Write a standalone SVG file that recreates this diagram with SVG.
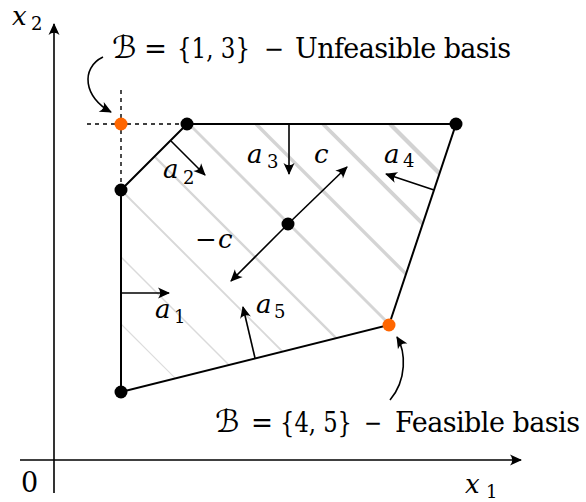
<svg xmlns="http://www.w3.org/2000/svg" width="586" height="502" viewBox="0 0 586 502">
<style>
.t{font-size:27px;font-family:'DejaVu Serif','Liberation Serif',serif}
.m{font-size:26px;font-style:italic;font-family:'DejaVu Serif','Liberation Serif',serif}
.s{font-size:18px;font-style:normal}
.cal{font-family:'DejaVu Serif','DejaVu Sans',serif;font-style:italic;font-size:31px}
.edge{stroke:#000;stroke-width:2;fill:none}
.vec{stroke:#000;stroke-width:1.6;fill:none;marker-end:url(#ah)}
.axis{stroke:#000;stroke-width:1.6;fill:none}
.dash{stroke:#000;stroke-width:1.4;stroke-dasharray:4 4;fill:none}
.h{fill:none;stroke-linecap:butt}
</style>
<defs>
<marker id="ah" markerUnits="userSpaceOnUse" markerWidth="16" markerHeight="14" viewBox="-13 -7 16 14" refX="0" refY="0" orient="auto">
<path d="M1,0 L-11,-5.5 Q-6.5,0 -11,5.5 Z" fill="#000"/>
</marker>
</defs>

<g id="hatching">
<line class="h" x1="390" y1="124" x2="439.5" y2="173.5" stroke="#d2d2d2" stroke-width="4.2"/>
<line class="h" x1="323" y1="124" x2="422.8" y2="223.8" stroke="#d3d3d3" stroke-width="3.8"/>
<line class="h" x1="256" y1="124" x2="406" y2="274" stroke="#d4d4d4" stroke-width="3.3"/>
<line class="h" x1="189" y1="124" x2="389.3" y2="324.3" stroke="#d5d5d5" stroke-width="2.9"/>
<line class="h" x1="154.5" y1="156.5" x2="336.2" y2="338.2" stroke="#d6d6d6" stroke-width="2.4"/>
<line class="h" x1="121" y1="190" x2="282.6" y2="351.6" stroke="#d8d8d8" stroke-width="1.9"/>
<line class="h" x1="121" y1="257" x2="229" y2="365" stroke="#dadada" stroke-width="1.5"/>
<line class="h" x1="121" y1="324" x2="175.4" y2="378.4" stroke="#dcdcdc" stroke-width="1.1"/>
</g>

<g id="axes">
<line class="axis" x1="54" y1="493" x2="54" y2="24" marker-end="url(#ah)"/>
<line class="axis" x1="20" y1="460" x2="521" y2="460" marker-end="url(#ah)"/>
<text class="m" x="12" y="25">x<tspan class="s" x="31" y="30">2</tspan></text>
<text class="m" x="465" y="493">x<tspan class="s" x="486" y="498">1</tspan></text>
<text class="t" x="21" y="492">0</text>
</g>

<g id="connectors">
<line class="dash" x1="87" y1="124" x2="187" y2="124"/>
<line class="dash" x1="121" y1="90" x2="121" y2="190"/>
<polyline class="edge" points="121,190 121,392 389,325 456,124 187,124 121,190"/>
<line class="vec" x1="288" y1="224" x2="347" y2="167"/>
<line class="vec" x1="288" y1="224" x2="231" y2="281"/>
<line class="vec" x1="289" y1="124" x2="289" y2="174"/>
<line class="vec" x1="171" y1="141" x2="205" y2="175"/>
<line class="vec" x1="121" y1="293" x2="169" y2="293"/>
<line class="vec" x1="434" y1="190" x2="386" y2="174"/>
<line class="vec" x1="255" y1="358" x2="243" y2="307"/>
<path class="vec" d="M103,57 C80,68 84,98 111,112"/>
<path class="vec" d="M390,400 C407,380 406,352 397,337"/>
</g>

<g id="labels">
<text class="m" x="163" y="178">a<tspan class="s" x="183" y="184">2</tspan></text>
<text class="m" x="247" y="163">a<tspan class="s" x="267" y="168">3</tspan></text>
<text class="m" x="314" y="163">c</text>
<text class="m" x="384" y="163">a<tspan class="s" x="403" y="167">4</tspan></text>
<text class="m" x="195" y="248"><tspan font-style="normal">−</tspan><tspan x="218">c</tspan></text>
<text class="m" x="155" y="318">a<tspan class="s" x="174" y="323">1</tspan></text>
<text class="m" x="256" y="313">a<tspan class="s" x="274" y="318">5</tspan></text>
</g>

<g id="label-unfeasible">
<text class="t" y="58"><tspan class="cal" x="112">ℬ</tspan><tspan x="144" textLength="23" lengthAdjust="spacingAndGlyphs">=</tspan><tspan x="177" textLength="73" lengthAdjust="spacingAndGlyphs">{1, 3}</tspan><tspan x="264" textLength="20" lengthAdjust="spacingAndGlyphs">−</tspan><tspan x="295" textLength="216" lengthAdjust="spacing">Unfeasible basis</tspan></text>
</g>
<g id="label-feasible">
<text class="t" y="432"><tspan class="cal" x="215">ℬ</tspan><tspan x="251" textLength="22" lengthAdjust="spacingAndGlyphs">=</tspan><tspan x="280" textLength="72" lengthAdjust="spacingAndGlyphs">{4, 5}</tspan><tspan x="364" textLength="18" lengthAdjust="spacingAndGlyphs">−</tspan><tspan x="395" textLength="185" lengthAdjust="spacing">Feasible basis</tspan></text>
</g>

<g id="node-unfeasible"><circle cx="121" cy="124" r="6.5" fill="#ff6600"/></g>
<g id="node-C"><circle cx="187" cy="124" r="6.5" fill="#000"/></g>
<g id="node-D"><circle cx="456" cy="124" r="6.5" fill="#000"/></g>
<g id="node-B"><circle cx="121" cy="190" r="6.5" fill="#000"/></g>
<g id="node-A"><circle cx="121" cy="392" r="6.5" fill="#000"/></g>
<g id="node-E"><circle cx="389" cy="325" r="6.5" fill="#ff6600"/></g>
<g id="node-center"><circle cx="288" cy="224" r="6.5" fill="#000"/></g>
</svg>
